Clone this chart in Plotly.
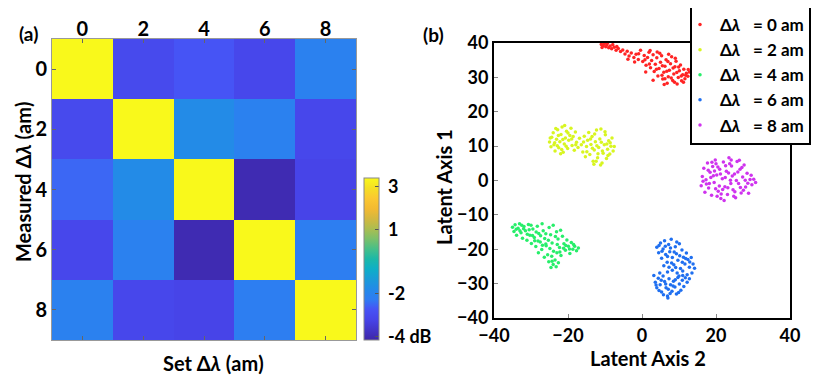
import plotly.graph_objects as go

# ---- panel (a): confusion-style heatmap ----
set_dl = [0, 2, 4, 6, 8]
measured_dl = [0, 2, 4, 6, 8]
heat_db = [
    [3.4, -3.0, -2.7, -3.1, -2.1],
    [-3.0, 3.4, -1.75, -2.1, -3.1],
    [-2.5, -1.75, 3.4, -4.0, -3.2],
    [-3.1, -2.1, -4.0, 3.4, -2.2],
    [-2.1, -3.1, -3.2, -2.2, 3.4],
]
cbar_vals = [3, 1, -2, -4]
cbar_text = ["3", "1", "-2", "-4 dB"]

# ---- panel (b): latent space clusters ----
labels = ["0", "2", "4", "6", "8"]
colors = ["#ff2424", "#d8f521", "#27ee6a", "#1f6ff0", "#cf33ee"]

pts_0 = [(-11.0, 39.6), (-10.5, 39.2), (-10.2, 39.8), (-9.8, 38.9), (-9.5, 39.4), (-9.0, 38.6),
         (-8.6, 39.1), (-8.2, 38.3), (-7.5, 38.8), (-7.0, 37.9), (-6.4, 38.4), (-5.8, 37.5),
         (-5.2, 38.0), (-4.6, 36.8), (-4.0, 37.6), (-3.5, 36.2), (-2.9, 37.1), (-2.2, 35.8),
         (-1.6, 36.7), (-1.0, 35.2), (-0.4, 37.9), (0.2, 34.6), (0.6, 36.4), (1.1, 33.5),
         (1.5, 35.8), (1.9, 37.3), (2.3, 32.8), (2.6, 34.9), (3.0, 36.6), (3.3, 31.7),
         (3.6, 33.8), (4.0, 35.7), (4.3, 30.4), (4.6, 32.6), (5.0, 34.4), (5.3, 36.3),
         (5.6, 29.5), (5.9, 31.5), (6.2, 33.2), (6.5, 35.1), (6.8, 28.3), (7.1, 30.2),
         (7.4, 32.1), (7.7, 34.0), (8.0, 36.0), (8.3, 29.1), (8.6, 31.0), (8.9, 33.1),
         (9.2, 34.7), (9.5, 28.1), (9.8, 30.0), (10.1, 31.9), (10.4, 33.6), (10.7, 29.0),
         (11.0, 30.8), (11.3, 32.4), (11.6, 29.6), (12.0, 31.2), (12.4, 30.3), (12.8, 31.6),
         (6.0, 27.9), (3.0, 29.2), (1.0, 31.6), (-2.0, 34.5), (9.0, 35.6), (7.2, 36.7),
         (4.8, 37.0), (2.2, 37.8),
         (-10.8, 38.7), (-9.3, 40.0), (-7.9, 39.5), (-6.8, 39.0), (-3.8, 35.3), (-0.9, 36.9),
         (0.8, 35.1), (2.0, 33.9), (3.9, 32.4), (4.1, 37.4), (5.4, 30.6), (5.5, 33.4),
         (6.7, 31.8), (7.0, 34.6), (7.9, 29.8), (8.4, 32.7), (9.4, 31.4), (9.9, 33.0),
         (10.6, 30.4), (11.8, 30.6), (12.5, 32.3), (11.2, 28.6), (6.2, 29.6), (8.8, 28.6)]

pts_2 = [(-25.0, 11.2), (-24.6, 9.8), (-24.4, 12.6), (-24.0, 13.9), (-23.8, 10.4), (-23.5, 8.6),
         (-23.1, 12.0), (-22.8, 14.8), (-22.5, 9.5), (-22.2, 11.3), (-21.9, 13.4), (-21.6, 15.6),
         (-21.3, 8.2), (-21.0, 10.6), (-20.7, 12.4), (-20.4, 14.3), (-20.1, 9.3), (-19.8, 11.7),
         (-19.5, 13.1), (-19.2, 15.2), (-18.9, 10.2), (-18.6, 12.8), (-18.3, 8.8), (-18.0, 14.1),
         (-17.7, 11.1), (-17.3, 9.6), (-16.9, 12.3), (-23.3, 15.1), (-20.9, 16.0), (-22.0, 7.8),
         (-16.4, 10.4), (-16.0, 8.3), (-15.6, 12.9), (-15.3, 6.9), (-15.0, 9.9), (-14.7, 11.7),
         (-14.4, 14.0), (-14.1, 7.6), (-13.8, 10.5), (-13.5, 12.8), (-13.2, 5.6), (-12.9, 8.9),
         (-12.6, 11.3), (-12.3, 14.7), (-12.0, 6.6), (-11.7, 9.6), (-11.4, 12.1), (-11.1, 15.0),
         (-10.8, 5.1), (-10.5, 7.9), (-10.2, 10.4), (-9.9, 13.3), (-9.6, 6.4), (-9.3, 9.1),
         (-9.0, 11.6), (-8.7, 7.7), (-8.4, 10.0), (-8.1, 12.4), (-7.8, 8.6), (-7.5, 9.9),
         (-13.0, 4.7), (-11.2, 4.5), (-10.0, 14.2), (-12.8, 13.5),
         (-24.8, 12.4), (-23.6, 11.0), (-22.6, 13.1), (-22.9, 10.1), (-21.4, 11.9), (-20.5, 10.0),
         (-20.0, 13.8), (-21.7, 9.0), (-19.0, 12.1), (-17.9, 10.4), (-15.8, 11.2), (-14.9, 8.4),
         (-13.4, 9.4), (-12.2, 10.1), (-11.0, 11.1), (-10.7, 8.6), (-9.5, 10.6), (-11.9, 7.8),
         (-13.9, 12.1), (-12.4, 5.6), (-9.2, 7.3), (-8.6, 11.0)]

pts_4 = [(-35.0, -13.6), (-34.6, -14.8), (-34.3, -12.9), (-33.9, -15.9), (-33.5, -13.9), (-33.1, -12.6),
         (-32.7, -15.2), (-32.3, -16.8), (-31.9, -13.4), (-31.5, -14.6), (-31.1, -17.4), (-30.7, -12.8),
         (-30.3, -15.9), (-29.9, -18.3), (-29.5, -14.1), (-29.1, -16.6), (-28.7, -19.2), (-28.3, -13.3),
         (-27.9, -15.4), (-27.5, -17.9), (-27.1, -20.1), (-26.7, -14.6), (-26.3, -16.9), (-25.9, -19.0),
         (-25.5, -21.6), (-25.1, -13.7), (-24.7, -15.8), (-24.3, -18.2), (-23.9, -20.6), (-23.5, -23.1),
         (-23.1, -14.9), (-22.7, -17.0), (-22.3, -19.5), (-21.9, -21.8), (-21.5, -16.2), (-21.1, -18.4),
         (-20.7, -20.3), (-20.3, -17.3), (-19.9, -19.1), (-19.5, -21.2), (-19.1, -18.0), (-18.7, -20.0),
         (-18.2, -19.1), (-17.7, -20.4), (-17.2, -19.6), (-24.6, -25.3), (-24.0, -24.4), (-23.2, -25.1),
         (-25.2, -23.6), (-22.6, -23.9), (-26.4, -22.3), (-28.0, -21.0), (-32.0, -14.0), (-30.0, -13.0),
         (-27.0, -12.6), (-24.0, -13.0), (-22.0, -14.5), (-29.0, -17.5), (-26.0, -18.5), (-23.0, -21.0),
         (-34.0, -14.2), (-33.0, -14.6), (-32.5, -13.0), (-31.0, -15.6), (-30.5, -14.3), (-29.6, -16.0),
         (-28.6, -15.0), (-28.1, -17.6), (-27.4, -16.1), (-26.9, -18.8), (-26.0, -15.5), (-25.3, -17.4),
         (-24.9, -19.8), (-24.4, -22.0), (-23.4, -16.3), (-22.9, -18.6), (-22.2, -20.8), (-21.2, -19.7),
         (-20.6, -18.9), (-19.6, -19.9), (-18.5, -18.6), (-24.3, -23.5)]

pts_6 = [(4.0, -19.4), (4.5, -21.0), (5.0, -18.2), (5.3, -22.6), (5.7, -19.9), (6.1, -17.5),
         (6.4, -21.5), (6.8, -23.8), (7.2, -18.6), (7.5, -20.7), (7.9, -17.1), (8.2, -22.4),
         (8.6, -24.5), (9.0, -19.3), (9.3, -21.3), (9.7, -23.2), (10.1, -18.4), (10.4, -25.6),
         (10.8, -20.2), (11.2, -22.3), (11.6, -24.3), (12.0, -21.1), (12.4, -23.0), (12.8, -25.2),
         (13.3, -22.4), (13.8, -24.3), (14.2, -25.5), (13.5, -26.9), (12.2, -27.4), (11.0, -26.3),
         (9.5, -26.9), (8.2, -26.1), (6.9, -26.6), (3.2, -27.6), (3.6, -29.6), (4.0, -31.2),
         (4.4, -28.4), (4.9, -30.3), (5.3, -32.4), (5.7, -27.8), (6.1, -29.4), (6.5, -31.2),
         (6.9, -33.6), (7.3, -28.6), (7.7, -30.3), (8.1, -32.2), (8.5, -29.3), (8.9, -31.0),
         (9.3, -33.0), (9.7, -28.2), (10.1, -30.1), (10.5, -31.9), (10.9, -29.0), (11.3, -30.8),
         (11.7, -28.3), (12.2, -29.6), (7.0, -34.2), (5.8, -33.2), (8.0, -24.0), (5.9, -24.8),
         (12.8, -28.6), (10.0, -27.8),
         (4.6, -18.9), (5.4, -20.6), (6.3, -19.1), (6.9, -22.1), (7.7, -19.6), (8.7, -20.8),
         (9.4, -17.9), (10.2, -21.9), (10.9, -23.8), (11.8, -22.7), (12.9, -23.7), (9.1, -25.3),
         (7.3, -25.2), (4.8, -26.9), (5.2, -29.0), (6.4, -30.1), (7.1, -31.6), (7.6, -32.9),
         (8.4, -30.7), (9.0, -28.9), (3.8, -30.4), (4.6, -32.0), (9.9, -32.6), (11.0, -27.6)]

pts_8 = [(16.0, -1.5), (16.3, 1.2), (16.7, 3.6), (17.0, -3.4), (17.3, 0.2), (17.7, 5.1),
         (18.0, -2.2), (18.4, 2.4), (18.8, -4.3), (19.1, 4.1), (19.5, -0.6), (19.8, 6.0),
         (20.2, 1.6), (20.6, -3.1), (21.0, 3.3), (21.3, -5.2), (21.7, 0.5), (22.0, 5.4),
         (22.4, -1.8), (22.8, 2.7), (23.1, -4.1), (23.5, 6.6), (23.9, 0.1), (24.2, 4.2),
         (24.6, -2.7), (25.0, 1.9), (25.3, -5.0), (25.7, 5.5), (26.1, -0.9), (26.5, 3.3),
         (26.8, -3.6), (27.2, 1.0), (27.6, 4.5), (28.0, -1.9), (28.4, 2.1), (28.8, -3.7),
         (29.2, 0.3), (29.7, -1.2), (30.2, 0.4), (30.7, -0.6), (18.6, 0.9), (20.9, -1.6),
         (22.6, 4.3), (24.8, -4.6), (26.3, 5.9), (19.6, 2.8), (21.4, -3.9), (23.4, 2.2),
         (25.5, 0.0), (27.4, -2.8), (22.2, -5.8), (20.0, 4.9), (24.0, -0.9), (17.4, -1.0),
         (16.5, -0.2), (17.9, 3.0), (18.2, -0.9), (19.3, 1.4), (19.9, -2.4), (20.5, 3.9),
         (21.2, 1.9), (21.8, -2.6), (22.5, 0.9), (23.2, -2.1), (23.7, 4.9), (24.4, 1.3),
         (25.1, -3.3), (25.9, 2.5), (26.6, -2.0), (27.0, 3.8), (27.9, 0.1), (28.6, -0.8),
         (20.3, -4.6), (24.1, 6.0), (29.5, 1.5), (18.9, 5.3)]

clusters = [pts_0, pts_2, pts_4, pts_6, pts_8]

# MATLAB parula, approximated
parula = [
    [0.00, "#3e26a8"], [0.125, "#4744e8"], [0.19, "#4753f5"], [0.25, "#2f7cf2"],
    [0.31, "#2489e9"], [0.375, "#1a9bd8"], [0.44, "#0eafc6"], [0.5, "#1cb8a8"],
    [0.56, "#45bf8a"], [0.625, "#7cc069"], [0.69, "#aebd4f"], [0.75, "#d4b83f"],
    [0.81, "#f3ba32"], [0.875, "#fbc831"], [0.94, "#f5e024"], [1.00, "#f9f91b"],
]

FONT = "Lato"
# the page body has an 8px margin, so the figure is drawn 8px in from the window edge
PAD = 8
W, H = 831 - PAD, 386 - PAD


def fx(px):
    # window pixel -> paper x
    return (px - PAD) / W


def fy(py):
    # window pixel -> paper y
    return 1 - (py - PAD) / H


def bold(size):
    return dict(family=FONT, size=size, color="black", weight="bold")


def label(text, px, py, size, angle=0):
    return dict(text=text, x=fx(px), y=fy(py), xref="paper", yref="paper",
                xanchor="center", yanchor="middle", textangle=angle,
                showarrow=False, font=bold(size))


fig = go.Figure()

fig.add_trace(go.Heatmap(
    x=set_dl, y=measured_dl, z=heat_db,
    colorscale=parula, zmin=-4.15, zmax=3.4,
    xaxis="x", yaxis="y",
    colorbar=dict(
        x=fx(364), xanchor="left", xpad=0,
        y=fy(340), yanchor="bottom", ypad=0, len=162 / H, lenmode="fraction",
        thickness=15, outlinewidth=1, outlinecolor="#888",
        tickvals=cbar_vals, ticktext=["\u00a0" + t for t in cbar_text],
        ticks="inside", ticklen=4, tickcolor="#555", tickfont=bold(18),
    ),
))

for lab, col, pts in zip(labels, colors, clusters):
    fig.add_trace(go.Scatter(
        x=[p[0] for p in pts], y=[p[1] for p in pts],
        mode="markers",
        name="\u0394<i>\u03bb</i>" + "\u00a0" * 3 + "= " + lab + " am",
        marker=dict(color=col, size=3.5, line=dict(width=0)),
        xaxis="x2", yaxis="y2",
    ))

fig.update_layout(
    width=W, height=H,
    margin=dict(l=0, r=0, t=0, b=0, autoexpand=False),
    paper_bgcolor="white", plot_bgcolor="white",
    font=dict(family=FONT, color="black"),
    xaxis=dict(
        domain=[fx(52), fx(356)], side="top", tickvals=set_dl,
        tickfont=bold(20), ticks="inside", ticklen=4, tickcolor="#666",
        ticklabelstandoff=-6,
        showline=True, linecolor="#999", linewidth=1, mirror="ticks",
        showgrid=False, zeroline=False, automargin=False,
    ),
    yaxis=dict(
        domain=[fy(340), fy(39)], autorange="reversed", tickvals=measured_dl,
        tickfont=bold(20), ticks="inside", ticklen=4, tickcolor="#666",
        showline=True, linecolor="#999", linewidth=1, mirror="ticks",
        showgrid=False, zeroline=False, automargin=False,
    ),
    xaxis2=dict(
        domain=[fx(494), fx(790)], range=[-40, 40], tickvals=[-40, -20, 0, 20, 40],
        tickfont=bold(18), ticks="inside", ticklen=4, tickcolor="#888",
        showline=True, linecolor="black", linewidth=2, mirror=True,
        showgrid=False, zeroline=False, automargin=False, anchor="y2",
    ),
    yaxis2=dict(
        domain=[fy(318), fy(43)], range=[-40, 40], dtick=10,
        tickfont=bold(18), ticks="inside", ticklen=4, tickcolor="#888",
        showline=True, linecolor="black", linewidth=2, mirror=True,
        showgrid=False, zeroline=False, automargin=False, anchor="x2",
    ),
    legend=dict(
        x=fx(690), y=fy(5), xanchor="left", yanchor="top",
        bgcolor="white", bordercolor="black", borderwidth=2,
        font=bold(17), tracegroupgap=0, itemwidth=30, indentation=-12,
    ),
    annotations=[
        label("(a)", 28, 33, 19),
        label("(b)", 433, 35, 19),
        label("Set \u0394<i>\u03bb</i> (am)", 213, 363, 20),
        label("Measured \u0394<i>\u03bb</i> (am)", 23, 182, 20, -90),
        label("Latent Axis 2", 648, 358, 20),
        label("Latent Axis 1", 444, 187, 20, -90),
    ],
)

fig.write_html("out.html")
